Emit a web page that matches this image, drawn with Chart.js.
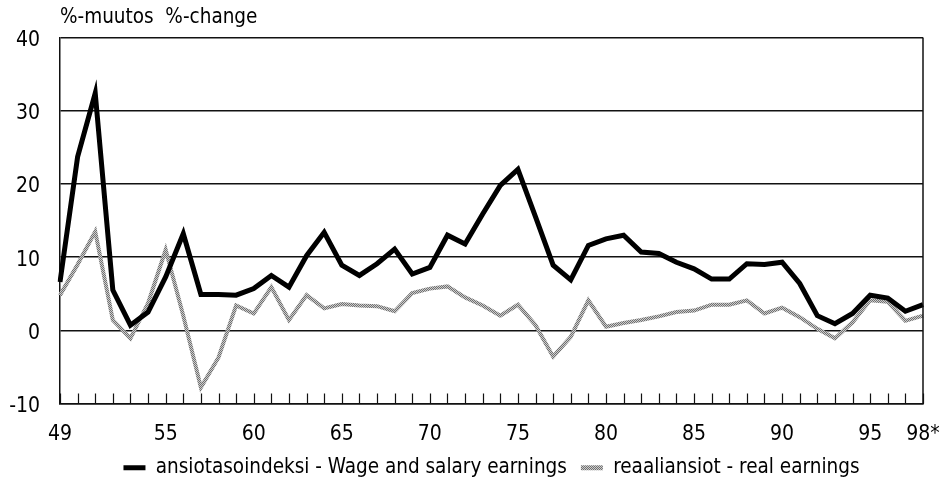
<!DOCTYPE html>
<html>
<head>
<meta charset="utf-8">
<script src="https://cdn.jsdelivr.net/npm/chart.js@4.4.1/dist/chart.umd.min.js"></script>
<style>
html,body{margin:0;padding:0;background:#fff;}
#wrap{width:949px;height:488px;}
</style>
</head>
<body>
<div id="wrap"><canvas id="c" width="949" height="488"></canvas></div>
<script>
// ---- data ----
const categories = ['49','50','51','52','53','54','55','56','57','58',
  '59','60','61','62','63','64','65','66','67','68',
  '69','70','71','72','73','74','75','76','77','78',
  '79','80','81','82','83','84','85','86','87','88',
  '89','90','91','92','93','94','95','96','97','98*'];
const tickLabels = ['49','55','60','65','70','75','80','85','90','95','98*'];
const wageEarnings = [6.6,23.7,32.4,5.5,0.7,2.5,7.3,13.2,4.9,4.9,
  4.8,5.7,7.5,5.9,10.2,13.4,8.9,7.5,9.1,11.1,
  7.7,8.6,13.0,11.8,15.9,19.8,22.0,15.5,8.9,6.9,
  11.6,12.5,13.0,10.7,10.5,9.3,8.4,7.0,7.0,9.1,
  9.0,9.3,6.4,2.0,0.9,2.3,4.8,4.4,2.6,3.5];
const realEarnings = [4.8,9.0,13.5,1.4,-1.1,3.7,11.0,2.0,-7.8,-3.7,
  3.4,2.3,5.9,1.4,4.8,3.0,3.6,3.4,3.3,2.6,
  5.1,5.7,6.0,4.5,3.4,2.0,3.5,0.7,-3.6,-0.9,
  4.1,0.5,1.0,1.4,1.9,2.5,2.7,3.5,3.5,4.1,
  2.3,3.1,1.8,0.2,-1.1,1.1,4.1,3.9,1.3,2.0];
const seriesNames = ['ansiotasoindeksi - Wage and salary earnings','reaaliansiot - real earnings'];
const yTicks = [-10,0,10,20,30,40];
const axisTitle = '%-muutos  %-change';

// ---- styles ----
const FONT = "'DejaVu Sans Condensed', 'Liberation Sans', sans-serif";
function makeHatch(){
  const p = document.createElement('canvas');
  p.width = 4; p.height = 4;
  const g = p.getContext('2d');
  g.fillStyle = '#cccccc'; g.fillRect(0,0,4,4);
  g.fillStyle = '#707070';
  g.fillRect(0,0,1,1); g.fillRect(1,1,1,1); g.fillRect(2,2,1,1); g.fillRect(3,3,1,1);
  g.fillRect(2,0,1,1); g.fillRect(3,1,1,1); g.fillRect(0,2,1,1); g.fillRect(1,3,1,1);
  return g.createPattern(p,'repeat');
}
const ctx = document.getElementById('c').getContext('2d');
const hatch = makeHatch();

const framePlugin = {
  id:'frame',
  afterDatasetsDraw(chart){
    const a = chart.chartArea, x = chart.scales.x, c = chart.ctx;
    c.save();
    c.strokeStyle = '#111'; c.lineWidth = 1.5;
    c.beginPath();
    c.moveTo(a.right, a.top); c.lineTo(a.right, a.bottom);
    c.stroke();
    c.lineWidth = 1.2;
    c.beginPath();
    for (let i = 0; i < categories.length; i++){
      const px = Math.round(x.getPixelForValue(i)) + 0.5;
      c.moveTo(px, a.bottom); c.lineTo(px, a.bottom - 10);
    }
    c.stroke();
    c.restore();
  }
};

new Chart(ctx, {
  type:'line',
  data:{
    labels: categories,
    datasets:[
      {label: seriesNames[0], data: wageEarnings, borderColor:'#000', backgroundColor:'#000',
       borderWidth:5, pointRadius:0, tension:0, borderJoinStyle:'miter'},
      {label: seriesNames[1], data: realEarnings, borderColor: hatch, backgroundColor: hatch,
       borderWidth:4, pointRadius:0, tension:0, borderJoinStyle:'miter'}
    ]
  },
  options:{
    responsive:false,
    animation:false,
    devicePixelRatio:1,
    layout:{padding:{top:5,right:26,left:0,bottom:0}},
    plugins:{
      tooltip:{enabled:false},
      title:{display:true, text: axisTitle, align:'start', fullSize:false, color:'#000',
        font:{family:FONT, size:20.5, weight:'normal'}, padding:{top:0,bottom:8}},
      legend:{position:'bottom', fullSize:false, align:'center',
        labels:{
          color:'#000', font:{family:FONT, size:20.5}, boxWidth:22, boxHeight:5, padding:14,
          generateLabels(chart){
            const items = Chart.defaults.plugins.legend.labels.generateLabels(chart);
            items.forEach((it,i)=>{ it.lineWidth = 0; it.strokeStyle = 'rgba(0,0,0,0)'; it.fillStyle = i===0 ? '#000' : hatch; });
            return items;
          }
        }}
    },
    scales:{
      x:{
        type:'category',
        offset:false,
        grid:{display:false, drawTicks:false},
        border:{display:true, color:'#111', width:1.5},
        ticks:{autoSkip:false, maxRotation:0, minRotation:0, padding:18, color:'#000',
          font:{family:FONT, size:21},
          callback(v, i){ const l = categories[i]; return tickLabels.includes(l) ? l : ''; }},
        afterFit(s){ s.height = 40; s.paddingRight = 0; s.paddingLeft = 0; }
      },
      y:{
        min:-10, max:40,
        afterBuildTicks(s){ s.ticks = yTicks.map(v=>({value:v})); },
        grid:{color:'#111', lineWidth:1.5, drawTicks:false},
        border:{display:true, color:'#111', width:1.5},
        ticks:{padding:20, labelOffset:3, color:'#000', font:{family:FONT, size:21}},
        afterFit(s){ s.width = 60; }
      }
    }
  },
  plugins:[framePlugin]
});
</script>
</body>
</html>
